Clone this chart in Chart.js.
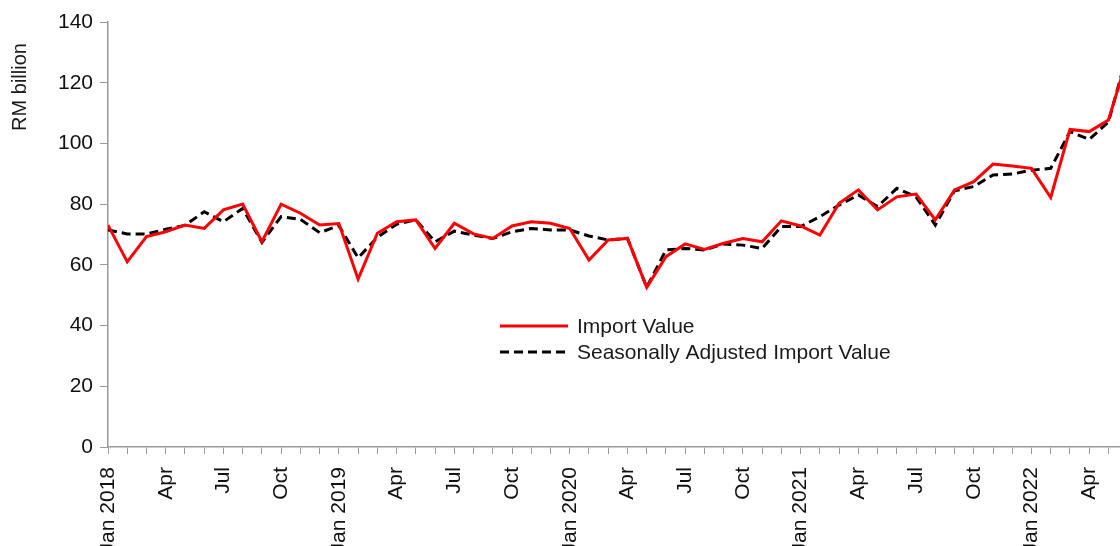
<!DOCTYPE html>
<html>
<head>
<meta charset="utf-8">
<script src="https://cdn.jsdelivr.net/npm/chart.js@4/dist/chart.umd.min.js"></script>
<style>
html,body{margin:0;padding:0;background:#fff;}
#wrap{width:1120px;height:546px;position:relative;}
</style>
</head>
<body>
<div id="wrap"><canvas id="c" width="1120" height="546"></canvas></div>
<script>
// ---- data ----
const categories = [
  'Jan 2018','Feb','Mar','Apr','May','Jun','Jul','Aug','Sep','Oct','Nov','Dec',
  'Jan 2019','Feb','Mar','Apr','May','Jun','Jul','Aug','Sep','Oct','Nov','Dec',
  'Jan 2020','Feb','Mar','Apr','May','Jun','Jul','Aug','Sep','Oct','Nov','Dec',
  'Jan 2021','Feb','Mar','Apr','May','Jun','Jul','Aug','Sep','Oct','Nov','Dec',
  'Jan 2022','Feb','Mar','Apr','May','Jun'
];
const importValue = [
  73.1, 61.0, 69.3, 70.9, 73.1, 72.0, 78.1, 80.0, 67.6, 80.0, 77.0, 73.1,
  73.6, 55.3, 70.4, 74.2, 74.8, 65.4, 73.7, 70.2, 68.7, 72.8, 74.2, 73.7,
  72.0, 61.6, 68.2, 68.7, 52.6, 62.7, 66.9, 65.1, 67.1, 68.7, 67.6, 74.5,
  72.8, 69.8, 80.3, 84.7, 78.1, 82.4, 83.3, 74.8, 84.7, 87.4, 93.2, 92.6,
  91.8, 82.2, 104.6, 103.9, 107.7, 128.5
];
const seasonallyAdjusted = [
  71.5, 70.2, 70.2, 71.7, 73.0, 77.5, 74.2, 78.6, 67.4, 75.9, 75.0, 70.6,
  72.9, 62.3, 69.1, 73.4, 74.8, 67.6, 71.1, 69.8, 68.7, 70.9, 72.0, 71.5,
  71.5, 69.5, 68.2, 68.7, 52.6, 64.9, 65.4, 64.9, 66.9, 66.5, 65.4, 72.6,
  72.6, 75.9, 79.7, 83.0, 79.2, 85.2, 82.4, 73.1, 84.4, 85.8, 89.6, 89.9,
  91.2, 91.8, 103.9, 101.3, 107.1, 130.0
];
const seriesNames = ['Import Value', 'Seasonally Adjusted Import Value'];
const yTitle = 'RM billion';
const yTickValues = [0, 20, 40, 60, 80, 100, 120, 140];

// ---- chart ----
const FONT = '"Liberation Sans", Arial, sans-serif';
const AXIS = '#9a9a9a';

const legendPlugin = {
  id: 'insideLegend',
  afterDraw(chart) {
    const ctx = chart.ctx;
    ctx.save();
    chart.data.datasets.forEach((ds, i) => {
      const y = 326 + 26 * i;
      ctx.beginPath();
      ctx.strokeStyle = ds.borderColor;
      ctx.lineWidth = ds.borderWidth;
      ctx.setLineDash(ds.borderDash || []);
      ctx.moveTo(500, y);
      ctx.lineTo(568, y);
      ctx.stroke();
      ctx.setLineDash([]);
      ctx.fillStyle = '#1a1a1a';
      ctx.font = '21px ' + FONT;
      ctx.textBaseline = 'middle';
      ctx.textAlign = 'left';
      ctx.fillText(ds.label, 577, y + 1);
    });
    ctx.restore();
  }
};

const yTitlePlugin = {
  id: 'yTitle',
  afterDraw(chart) {
    const ctx = chart.ctx;
    ctx.save();
    ctx.translate(20, 87);
    ctx.rotate(-Math.PI / 2);
    ctx.fillStyle = '#1a1a1a';
    ctx.font = '20px ' + FONT;
    ctx.textAlign = 'center';
    ctx.textBaseline = 'middle';
    ctx.fillText(yTitle, 0, 0);
    ctx.restore();
  }
};

new Chart(document.getElementById('c'), {
  type: 'line',
  data: {
    datasets: [
      {
        label: seriesNames[0],
        data: importValue.map((v, i) => ({ x: i, y: v })),
        borderColor: '#ff0000',
        borderWidth: 3,
        pointRadius: 0,
        tension: 0,
        fill: false
      },
      {
        label: seriesNames[1],
        data: seasonallyAdjusted.map((v, i) => ({ x: i, y: v })),
        borderColor: '#000000',
        borderWidth: 3,
        borderDash: [9, 5],
        pointRadius: 0,
        tension: 0,
        fill: false
      }
    ]
  },
  options: {
    responsive: false,
    animation: false,
    layout: { padding: { top: 22, right: 0, bottom: 0, left: 0 } },
    plugins: { legend: { display: false }, tooltip: { enabled: false } },
    scales: {
      x: {
        type: 'linear',
        min: 0,
        max: 52.6,
        afterBuildTicks: s => {
          s.ticks = categories.map((_, i) => ({ value: i })).filter(t => t.value <= s.max);
        },
        afterFit: s => { s.height = 99; s.paddingLeft = 0; s.paddingRight = 0; },
        ticks: {
          autoSkip: false,
          maxRotation: 90,
          minRotation: 90,
          padding: 13,
          color: '#111',
          font: { family: FONT, size: 21 },
          callback: v => (v % 3 === 0 ? categories[v] : '')
        },
        grid: { drawOnChartArea: false, drawTicks: true, tickLength: 7, color: AXIS },
        border: { color: AXIS, width: 1.5 }
      },
      y: {
        min: 0,
        max: 140,
        afterBuildTicks: s => { s.ticks = yTickValues.map(v => ({ value: v })); },
        afterFit: s => { s.width = 108; },
        ticks: {
          padding: 7,
          color: '#111',
          font: { family: FONT, size: 21 }
        },
        grid: { drawOnChartArea: false, drawTicks: true, tickLength: 8, color: AXIS },
        border: { color: AXIS, width: 1.5 }
      }
    }
  },
  plugins: [legendPlugin, yTitlePlugin]
});
</script>
</body>
</html>
